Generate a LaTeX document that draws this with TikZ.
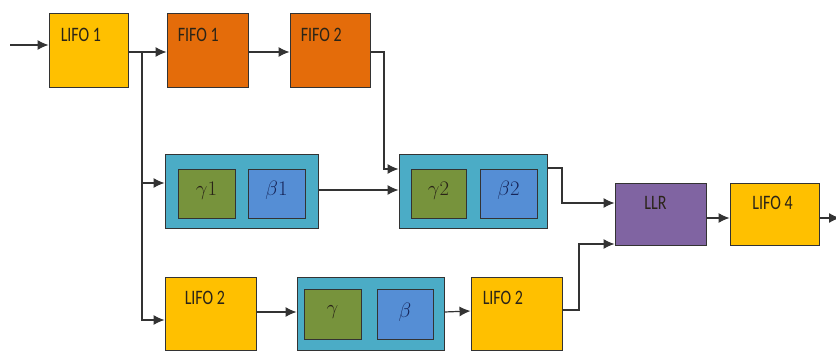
\documentclass[tikz,border=0pt]{standalone}
\usepackage{fontspec}
\usetikzlibrary{arrows.meta,calc}
\newfontfamily\labfont[FakeStretch=0.78]{Carlito}
\definecolor{lifoc}{HTML}{FFC000}
\definecolor{fifoc}{HTML}{E46C0A}
\definecolor{tealc}{HTML}{4BACC6}
\definecolor{gamc}{HTML}{77933C}
\definecolor{betc}{HTML}{558ED5}
\definecolor{llrc}{HTML}{8064A2}
\definecolor{edgec}{HTML}{333333}
\definecolor{txtc}{HTML}{2A2418}
\definecolor{betatxt}{HTML}{17265A}
\tikzset{
  box/.style={draw=edgec, line width=0.9pt, rectangle, inner sep=0pt, minimum width=#1},
  box/.default=80pt,
  lbl/.style={font=\labfont\fontsize{20.5}{22}\selectfont, text=txtc, inner sep=0pt},
  gk/.style={font=\fontsize{22}{24}\selectfont, text=txtc, inner sep=0pt},
  conn/.style={draw=edgec, line width=1.2pt},
  arr/.style={conn, -{Latex[length=11pt,width=10pt]}}
}
\begin{document}
\begin{tikzpicture}[x=1pt,y=-1pt]
\useasboundingbox (0,0) rectangle (836,352);
% top row
\node[box=79pt, minimum height=74pt, fill=lifoc] (lifo1) at (88.5,50) {};
\node[box=81pt, minimum height=74pt, fill=fifoc] (fifo1) at (207.5,50) {};
\node[box=80pt, minimum height=74pt, fill=fifoc] (fifo2) at (330,50) {};
\node[lbl, anchor=west] (t1) at ($(lifo1.north west)+(12,22)$) {LIFO 1};
\node[lbl, anchor=west] (t2) at ($(fifo1.north west)+(11,22)$) {FIFO 1};
\node[lbl, anchor=west] (t3) at ($(fifo2.north west)+(11,22)$) {FIFO 2};
% middle row
\node[box=153pt, minimum height=74pt, fill=tealc] (o1) at (241.5,191) {};
\node[box=57pt, minimum height=49pt, fill=gamc] (g1) at (206.5,193.5) {};
\node[box=57pt, minimum height=49pt, fill=betc] (b1) at (276.5,193.5) {};
\node[gk] at ($(g1.center)+(0,-3)$) {$\gamma1$};
\node[gk, text=betatxt] at ($(b1.center)+(0,-3)$) {$\beta1$};
\node[box=148pt, minimum height=74pt, fill=tealc] (o2) at (473,191) {};
\node[box=55pt, minimum height=49pt, fill=gamc] (g2) at (438.5,193.5) {};
\node[box=57pt, minimum height=49pt, fill=betc] (b2) at (508.5,193.5) {};
\node[gk] at ($(g2.center)+(0,-3)$) {$\gamma2$};
\node[gk, text=betatxt] at ($(b2.center)+(0,-3)$) {$\beta2$};
\node[box=91pt, minimum height=62pt, fill=llrc] (llr) at (660.5,214) {};
\node[box=89pt, minimum height=62pt, fill=lifoc] (lifo4) at (774.5,214) {};
\node[lbl] (t4) at ($(llr.north)+(-5,20)$) {LLR};
\node[lbl] (t5) at ($(lifo4.north)+(-2,20)$) {LIFO 4};
% bottom row
\node[box=91pt, minimum height=73pt, fill=lifoc] (lifo2a) at (210.5,313.5) {};
\node[box=147pt, minimum height=73pt, fill=tealc] (o3) at (370.5,313.5) {};
\node[box=57pt, minimum height=50pt, fill=gamc] (g3) at (332.5,314) {};
\node[box=56pt, minimum height=50pt, fill=betc] (b3) at (405,314) {};
\node[gk] at ($(g3.center)+(0,-2)$) {$\gamma$};
\node[gk, text=betatxt] at ($(b3.center)+(0,-2)$) {$\beta$};
\node[box=91pt, minimum height=73pt, fill=lifoc] (lifo2b) at (516.5,313.5) {};
\node[lbl, anchor=west] (t6) at ($(lifo2a.north west)+(20,21)$) {LIFO 2};
\node[lbl, anchor=west] (t7) at ($(lifo2b.north west)+(12,21)$) {LIFO 2};
% coordinates
\coordinate (in) at (10,45);
\coordinate (br) at (142,52);
\coordinate (brm) at (142,183);
\coordinate (brb) at (142,320);
\coordinate (f2a) at (384,52);
\coordinate (f2b) at (384,169);
\coordinate (o2a) at (562,168);
\coordinate (o2b) at (562,203);
\coordinate (l2a) at (579,310);
\coordinate (l2b) at (579,244);
\coordinate (out) at (840,218);
% connectors
\draw[arr] (in) -- (in -| lifo1.west);
\draw[conn] (lifo1.east |- br) -- (br);
\draw[arr] (br) -- (fifo1.west |- br);
\draw[arr] (fifo1.east |- br) -- (fifo2.west |- br);
\draw[conn] (br) -- (brm);
\draw[arr] (brm) -- (o1.west |- brm);
\draw[arr] (brm) |- (lifo2a.west |- brb);
\draw[arr] (fifo2.east |- f2a) -- (f2a) -- (f2b) -- (o2.west |- f2b);
\draw[arr] (o1.east |- 0,190) -- (o2.west |- 0,190);
\draw[arr] (o2.east |- o2a) -- (o2a) -- (o2b) -- (llr.west |- o2b);
\draw[arr] (lifo2a.east |- 0,312) -- (o3.west |- 0,312);
\draw[arr] (o3.east |- 0,312) -- (lifo2b.west |- 0,311);
\draw[arr] (lifo2b.east |- l2a) -- (l2a) -- (l2b) -- (llr.west |- l2b);
\draw[arr] (llr.east |- out) -- (lifo4.west |- out);
\draw[arr] (lifo4.east |- out) -- (out);
\end{tikzpicture}
\end{document}
